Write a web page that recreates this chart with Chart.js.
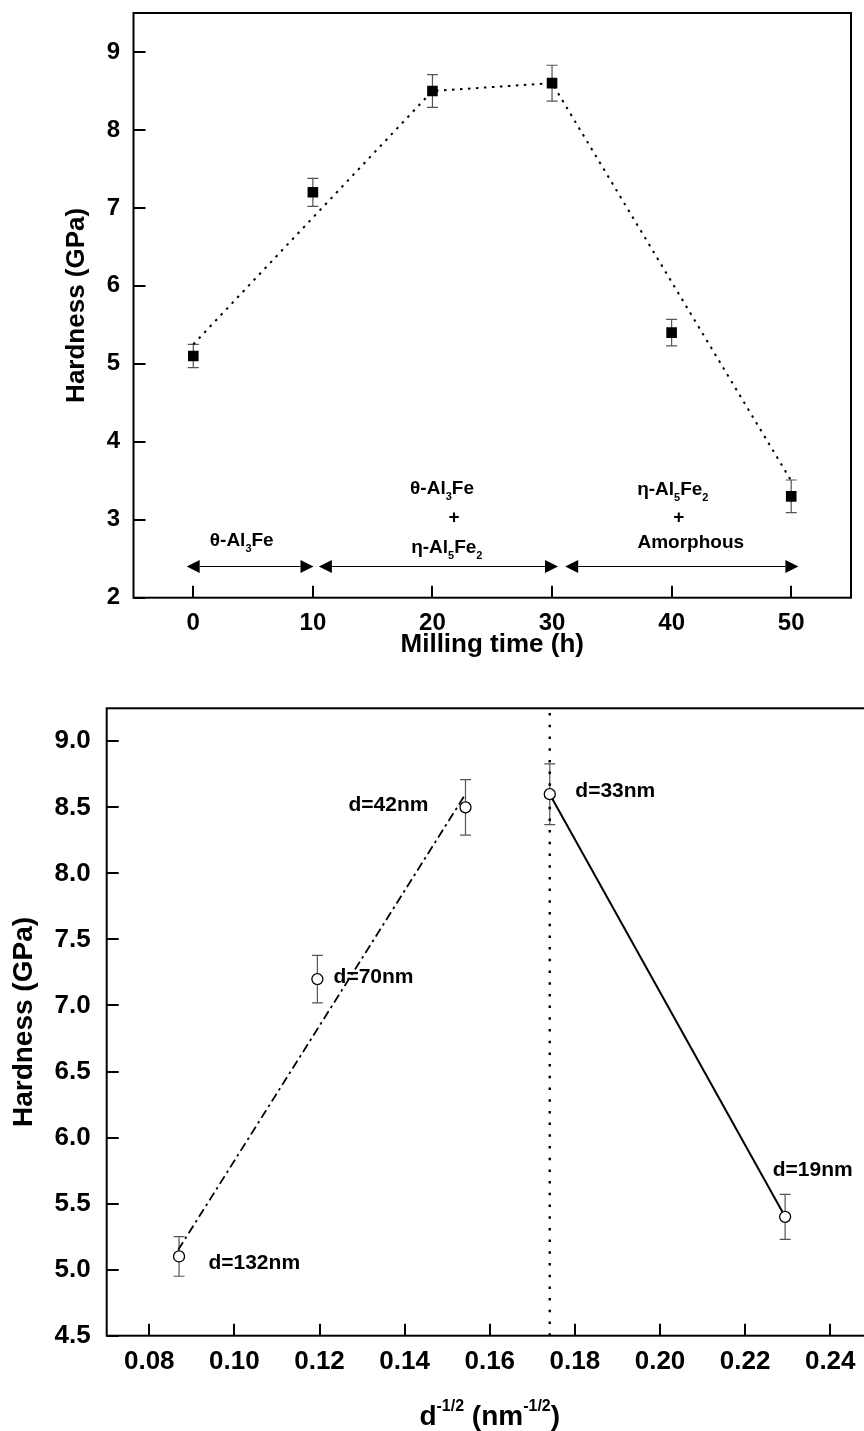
<!DOCTYPE html>
<html>
<head>
<meta charset="utf-8">
<script src="https://cdn.jsdelivr.net/npm/chart.js@4/dist/chart.umd.min.js"></script>
<style>
  html, body { margin: 0; padding: 0; overflow: hidden; background: #fff; width: 864px; height: 1431px; }
  #topWrap { position: absolute; left: 0; top: 0; width: 864px; height: 660px; }
  #botWrap { position: absolute; left: 0; top: 660px; width: 880px; height: 771px; }
</style>
</head>
<body>
<div id="topWrap"><canvas id="topChart" width="864" height="660"></canvas></div>
<div id="botWrap"><canvas id="botChart" width="880" height="771"></canvas></div>
<script>
// ---------- Data (top chart: hardness vs milling time) ----------
const millingTime = [0, 10, 20, 30, 40, 50];
const hardness = [5.1, 7.2, 8.5, 8.6, 5.4, 3.3];
const hardnessErr = [0.15, 0.18, 0.21, 0.23, 0.17, 0.21];
const trendTime = [0, 20, 30, 50];
const trendHardness = [5.25, 8.5, 8.6, 3.5];
const topXTicks = [0, 10, 20, 30, 40, 50];
const topYTicks = [2, 3, 4, 5, 6, 7, 8, 9];

// ---------- Data (bottom chart: Hall-Petch plot) ----------
const grainLabels = ['d=132nm', 'd=70nm', 'd=42nm', 'd=33nm', 'd=19nm'];
const dInvSqrt = [0.0870, 0.1195, 0.1543, 0.1741, 0.2294];
const hpHardness = [5.1, 7.2, 8.5, 8.6, 5.4];
const hpErr = [0.15, 0.18, 0.21, 0.23, 0.17];
const fitRiseX = [0.0868, 0.1543];
const fitRiseY = [5.15, 8.6];
const fitFallX = [0.1741, 0.2294];
const fitFallY = [8.6, 5.4];
const criticalX = 0.1741;
const botXTicks = [0.08, 0.10, 0.12, 0.14, 0.16, 0.18, 0.20, 0.22, 0.24];
const botYTicks = [4.5, 5.0, 5.5, 6.0, 6.5, 7.0, 7.5, 8.0, 8.5, 9.0];

// ---------- Annotations (anchored in data units) ----------
const phaseArrows = [[-0.55, 10.05], [10.5, 30.5], [31.1, 50.6]];
const phaseArrowY = 2.4;
const phaseLabels = [
  { x: 4.05, y: 2.75, segs: [['θ-Al'], ['3', 'sub'], ['Fe']] },
  { x: 20.8, y: 3.42, segs: [['θ-Al'], ['3', 'sub'], ['Fe']] },
  { x: 21.8, y: 3.05, segs: [['+']] },
  { x: 21.2, y: 2.66, segs: [['η-Al'], ['5', 'sub'], ['Fe'], ['2', 'sub']] },
  { x: 40.1, y: 3.40, segs: [['η-Al'], ['5', 'sub'], ['Fe'], ['2', 'sub']] },
  { x: 40.6, y: 3.05, segs: [['+']] },
  { x: 41.6, y: 2.72, segs: [['Amorphous']] }
];
const grainLabelPos = [[0.0939, 5.065], [0.1233, 7.227], [0.1268, 8.528], [0.1801, 8.632], [0.2265, 5.77]];

const FF = '"Liberation Sans", Arial, Helvetica, sans-serif';
Chart.defaults.font.family = FF;
Chart.defaults.color = '#000';

function drawRich(ctx, segs, x, y, align, size) {
  const main = `bold ${size}px ${FF}`;
  const small = `bold ${Math.round(size * 0.58)}px ${FF}`;
  let w = 0;
  const m = segs.map(s => {
    ctx.font = s[1] ? small : main;
    const ww = ctx.measureText(s[0]).width;
    w += ww;
    return ww;
  });
  let cx = align === 'center' ? x - w / 2 : x;
  ctx.textAlign = 'left';
  ctx.textBaseline = 'alphabetic';
  segs.forEach((s, i) => {
    ctx.font = s[1] ? small : main;
    const dy = s[1] === 'sub' ? size * 0.32 : s[1] === 'sup' ? -size * 0.5 : 0;
    ctx.fillText(s[0], cx, y + dy);
    cx += m[i];
  });
}

function frameAndTicks(chart, tickLen) {
  const { ctx, chartArea: a, scales: { x, y } } = chart;
  ctx.save();
  ctx.strokeStyle = '#000';
  ctx.lineWidth = 2;
  ctx.strokeRect(a.left, a.top, a.right - a.left, a.bottom - a.top);
  ctx.beginPath();
  x.ticks.forEach(t => {
    const px = Math.round(x.getPixelForValue(t.value));
    ctx.moveTo(px, a.bottom); ctx.lineTo(px, a.bottom - tickLen);
  });
  y.ticks.forEach(t => {
    const py = Math.round(y.getPixelForValue(t.value));
    ctx.moveTo(a.left, py); ctx.lineTo(a.left + tickLen, py);
  });
  ctx.stroke();
  ctx.restore();
}

function errorBars(chart, xs, ys, errs, cap) {
  const { ctx, scales: { x, y } } = chart;
  ctx.save();
  ctx.strokeStyle = '#555';
  ctx.lineWidth = 1.2;
  ctx.beginPath();
  xs.forEach((xv, i) => {
    const px = x.getPixelForValue(xv);
    const pt = y.getPixelForValue(ys[i] + errs[i]);
    const pb = y.getPixelForValue(ys[i] - errs[i]);
    ctx.moveTo(px, pt); ctx.lineTo(px, pb);
    ctx.moveTo(px - cap, pt); ctx.lineTo(px + cap, pt);
    ctx.moveTo(px - cap, pb); ctx.lineTo(px + cap, pb);
  });
  ctx.stroke();
  ctx.restore();
}

function fixSize(prop, val) {
  return s => {
    s[prop] = val;
    s.paddingTop = 0; s.paddingBottom = 0; s.paddingLeft = 0; s.paddingRight = 0;
  };
}

// ---------------- Top chart ----------------
const topPlugin = {
  id: 'topExtras',
  beforeDatasetsDraw(chart) {
    errorBars(chart, millingTime, hardness, hardnessErr, 5.5);
  },
  afterDraw(chart) {
    const { ctx, scales: { x, y } } = chart;
    frameAndTicks(chart, 12);
    ctx.save();
    ctx.fillStyle = '#000';
    ctx.strokeStyle = '#000';
    ctx.lineWidth = 1.2;
    const py = y.getPixelForValue(phaseArrowY);
    const L = 13, H = 6.5;
    phaseArrows.forEach(([a, b]) => {
      const x1 = x.getPixelForValue(a), x2 = x.getPixelForValue(b);
      ctx.beginPath(); ctx.moveTo(x1 + L, py); ctx.lineTo(x2 - L, py); ctx.stroke();
      ctx.beginPath(); ctx.moveTo(x1, py); ctx.lineTo(x1 + L, py - H); ctx.lineTo(x1 + L, py + H); ctx.closePath(); ctx.fill();
      ctx.beginPath(); ctx.moveTo(x2, py); ctx.lineTo(x2 - L, py - H); ctx.lineTo(x2 - L, py + H); ctx.closePath(); ctx.fill();
    });
    const size = 19;
    phaseLabels.forEach(l => {
      drawRich(ctx, l.segs, x.getPixelForValue(l.x), y.getPixelForValue(l.y) + size * 0.36, 'center', size);
    });
    ctx.restore();
  }
};

new Chart(document.getElementById('topChart'), {
  type: 'scatter',
  data: {
    datasets: [
      {
        data: millingTime.map((t, i) => ({ x: t, y: hardness[i] })),
        pointStyle: 'rect', pointRadius: 7.5, backgroundColor: '#000', borderColor: '#000', borderWidth: 0
      },
      {
        data: trendTime.map((t, i) => ({ x: t, y: trendHardness[i] })),
        showLine: true, pointRadius: 0, borderColor: '#000', borderWidth: 2, borderDash: [2.5, 5.5]
      }
    ]
  },
  options: {
    responsive: false, animation: false, events: [],
    layout: { padding: { left: 61.4, top: 13, right: 13, bottom: 0 } },
    plugins: { legend: { display: false }, tooltip: { enabled: false } },
    scales: {
      x: {
        type: 'linear', min: -5, max: 55,
        grid: { display: false, drawTicks: false }, border: { display: false },
        afterBuildTicks: s => { s.ticks = topXTicks.map(v => ({ value: v })); },
        afterFit: fixSize('height', 62.3),
        ticks: { font: { size: 24, weight: 'bold' }, padding: 11.2, maxRotation: 0, autoSkip: false, callback: v => String(v) },
        title: { display: true, text: 'Milling time (h)', font: { size: 26, weight: 'bold' }, padding: 0 }
      },
      y: {
        type: 'linear', min: 2, max: 9.5,
        grid: { display: false, drawTicks: false }, border: { display: false },
        afterBuildTicks: s => { s.ticks = topYTicks.map(v => ({ value: v })); },
        afterFit: fixSize('width', 72.1),
        ticks: { font: { size: 24, weight: 'bold' }, padding: 13.5, autoSkip: false, callback: v => String(v) },
        title: { display: true, text: 'Hardness (GPa)', font: { size: 26, weight: 'bold' }, padding: 0 }
      }
    }
  },
  plugins: [topPlugin]
});

// ---------------- Bottom chart ----------------
const botPlugin = {
  id: 'botExtras',
  beforeDatasetsDraw(chart) {
    errorBars(chart, dInvSqrt, hpHardness, hpErr, 5.5);
  },
  afterDraw(chart) {
    const { ctx, chartArea: a, scales: { x, y } } = chart;
    frameAndTicks(chart, 12);
    ctx.save();
    ctx.fillStyle = '#000';
    const size = 21;
    grainLabels.forEach((t, i) => {
      const [lx, ly] = grainLabelPos[i];
      drawRich(ctx, [[t]], x.getPixelForValue(lx), y.getPixelForValue(ly) + size * 0.36, 'left', size);
    });
    const cx = (a.left + a.right) / 2;
    const segs = [['d'], ['-1/2', 'sup'], [' (nm'], ['-1/2', 'sup'], [')']];
    drawRich(ctx, segs, cx, 765, 'center', 28);
    ctx.restore();
  }
};

new Chart(document.getElementById('botChart'), {
  type: 'scatter',
  data: {
    datasets: [
      {
        data: dInvSqrt.map((v, i) => ({ x: v, y: hpHardness[i] })),
        pointStyle: 'circle', pointRadius: 5.5, backgroundColor: '#fff', borderColor: '#000', borderWidth: 1.3
      },
      {
        data: fitRiseX.map((v, i) => ({ x: v, y: fitRiseY[i] })),
        showLine: true, pointRadius: 0, borderColor: '#000', borderWidth: 1.8, borderDash: [9, 4, 2.5, 4]
      },
      {
        data: fitFallX.map((v, i) => ({ x: v, y: fitFallY[i] })),
        showLine: true, pointRadius: 0, borderColor: '#000', borderWidth: 2
      },
      {
        data: [{ x: criticalX, y: 4.5 }, { x: criticalX, y: 9.25 }],
        showLine: true, pointRadius: 0, borderColor: '#000', borderWidth: 2.5, borderDash: [2.5, 9.2]
      }
    ]
  },
  options: {
    responsive: false, animation: false, events: [],
    layout: { padding: { left: 7.2, top: 48.3, right: 7.2, bottom: 0 } },
    plugins: { legend: { display: false }, tooltip: { enabled: false } },
    scales: {
      x: {
        type: 'linear', min: 0.07, max: 0.25,
        grid: { display: false, drawTicks: false }, border: { display: false },
        afterBuildTicks: s => { s.ticks = botXTicks.map(v => ({ value: v })); },
        afterFit: fixSize('height', 95.3),
        ticks: { font: { size: 26, weight: 'bold' }, padding: 10.4, maxRotation: 0, autoSkip: false, callback: v => v.toFixed(2) },
        title: { display: false }
      },
      y: {
        type: 'linear', min: 4.5, max: 9.25,
        grid: { display: false, drawTicks: false }, border: { display: false },
        afterBuildTicks: s => { s.ticks = botYTicks.map(v => ({ value: v })); },
        afterFit: fixSize('width', 99.5),
        ticks: { font: { size: 26, weight: 'bold' }, padding: 16, autoSkip: false, callback: v => v.toFixed(1) },
        title: { display: true, text: 'Hardness (GPa)', font: { size: 28, weight: 'bold' }, padding: 0 }
      }
    }
  },
  plugins: [botPlugin]
});
</script>
</body>
</html>
